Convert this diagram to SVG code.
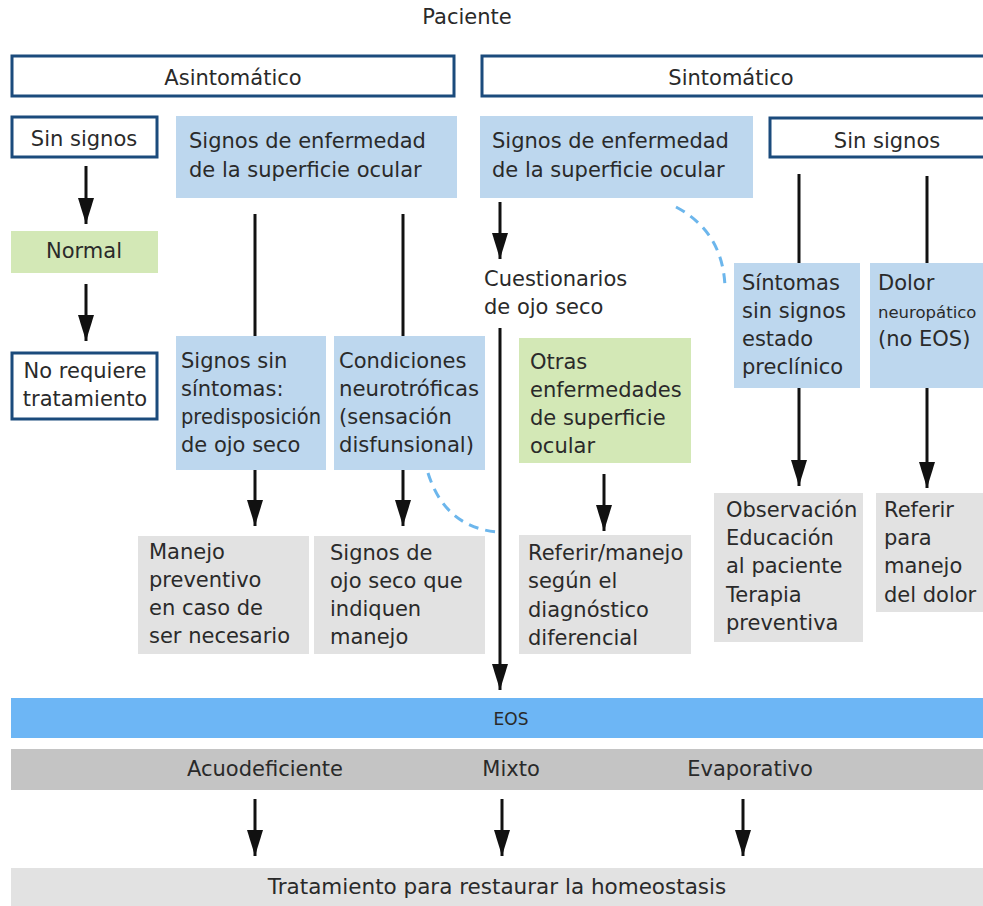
<svg xmlns="http://www.w3.org/2000/svg" width="983" height="906" viewBox="0 0 983 906">
<style>
text{font-family:"DejaVu Sans","Liberation Sans",sans-serif;font-size:21px;fill:#2a2a2a}
.c{text-anchor:middle}
.out{fill:#fff;stroke:#1b4b7c;stroke-width:3}
.blue{fill:#bdd7ee}
.green{fill:#d3e8b6}
.gray{fill:#e2e2e2}
.ln{stroke:#111;stroke-width:3;fill:none}
.arr{stroke:#111;stroke-width:3;fill:none;marker-end:url(#ah)}
.dash{stroke:#6cb6ec;stroke-width:3;fill:none;stroke-dasharray:10 7}
</style>
<defs>
<marker id="ah" viewBox="0 0 26 16" refX="26" refY="8" markerWidth="26" markerHeight="16" markerUnits="userSpaceOnUse" orient="auto">
<path d="M0,0 L26,8 L0,16 z" fill="#111"/>
</marker>
</defs>
<rect width="983" height="906" fill="#fff"/>
<text id="paciente" class="c" x="467" y="24">Paciente</text>
<g id="asintomatico"><rect class="out" x="12" y="56" width="442" height="40"/><text class="c" x="233" y="85">Asintomático</text></g>
<g id="sintomatico"><rect class="out" x="482" y="56" width="510" height="40"/><text class="c" x="731" y="85">Sintomático</text></g>
<g id="sin-signos-a"><rect class="out" x="12" y="117" width="145" height="40"/><text class="c" x="84" y="146">Sin signos</text></g>
<g id="signos-a"><rect class="blue" x="176" y="116" width="281" height="82"/><text x="189" y="148">Signos de enfermedad</text><text x="189" y="177">de la superficie ocular</text></g>
<g id="signos-s"><rect class="blue" x="480" y="116" width="273" height="82"/><text x="492" y="148">Signos de enfermedad</text><text x="492" y="177">de la superficie ocular</text></g>
<g id="sin-signos-s"><rect class="out" x="770" y="118" width="220" height="39"/><text class="c" x="887" y="148">Sin signos</text></g>
<g id="normal"><rect class="green" x="11" y="231" width="147" height="42"/><text class="c" x="84" y="258">Normal</text></g>
<g id="no-requiere"><rect class="out" x="12" y="353" width="145" height="66"/><text class="c" x="85" y="378">No requiere</text><text class="c" x="85" y="406">tratamiento</text></g>
<g id="signos-sin-sintomas"><rect class="blue" x="176" y="336" width="150" height="134"/><text x="181" y="368">Signos sin</text><text x="181" y="396">síntomas:</text><text x="181" y="424" textLength="140" lengthAdjust="spacingAndGlyphs">predisposición</text><text x="181" y="452">de ojo seco</text></g>
<g id="condiciones"><rect class="blue" x="334" y="336" width="151" height="134"/><text x="339" y="368">Condiciones</text><text x="339" y="396" textLength="140" lengthAdjust="spacingAndGlyphs">neurotróficas</text><text x="339" y="424">(sensación</text><text x="339" y="452" textLength="135" lengthAdjust="spacingAndGlyphs">disfunsional)</text></g>
<g id="manejo-preventivo"><rect class="gray" x="138" y="536" width="171" height="118"/><text x="149" y="559">Manejo</text><text x="149" y="587">preventivo</text><text x="149" y="615">en caso de</text><text x="149" y="643">ser necesario</text></g>
<g id="signos-ojo-seco"><rect class="gray" x="314" y="536" width="171" height="118"/><text x="330" y="560">Signos de</text><text x="330" y="588">ojo seco que</text><text x="330" y="616">indiquen</text><text x="330" y="644">manejo</text></g>
<g id="cuestionarios"><text x="484" y="286">Cuestionarios</text><text x="484" y="314">de ojo seco</text></g>
<g id="otras"><rect class="green" x="519" y="338" width="172" height="125"/><text x="530" y="369">Otras</text><text x="530" y="397">enfermedades</text><text x="530" y="425">de superficie</text><text x="530" y="453">ocular</text></g>
<g id="referir-manejo"><rect class="gray" x="519" y="535" width="172" height="119"/><text x="528" y="560">Referir/manejo</text><text x="528" y="588">según el</text><text x="528" y="617">diagnóstico</text><text x="528" y="645">diferencial</text></g>
<g id="sintomas-sin-signos"><rect class="blue" x="734" y="263" width="126" height="125"/><text x="742" y="290">Síntomas</text><text x="742" y="318">sin signos</text><text x="742" y="346">estado</text><text x="742" y="374">preclínico</text></g>
<g id="dolor"><rect class="blue" x="870" y="263" width="120" height="125"/><text x="878" y="290">Dolor</text><text x="878" y="318" style="font-size:16.5px">neuropático</text><text x="878" y="346">(no EOS)</text></g>
<g id="observacion"><rect class="gray" x="714" y="493" width="149" height="149"/><text x="726" y="517">Observación</text><text x="726" y="545">Educación</text><text x="726" y="573">al paciente</text><text x="726" y="602">Terapia</text><text x="726" y="630">preventiva</text></g>
<g id="referir-dolor"><rect class="gray" x="876" y="493" width="114" height="119"/><text x="884" y="517">Referir</text><text x="884" y="545">para</text><text x="884" y="573">manejo</text><text x="884" y="602">del dolor</text></g>
<g id="eos"><rect fill="#6db6f5" x="11" y="698" width="980" height="40"/><text class="c" x="511" y="725" style="font-size:17px">EOS</text></g>
<g id="tipos"><rect fill="#c4c4c4" x="11" y="749" width="980" height="41"/><text class="c" x="265" y="776">Acuodeficiente</text><text class="c" x="511" y="776">Mixto</text><text class="c" x="750" y="776">Evaporativo</text></g>
<g id="tratamiento"><rect fill="#e2e2e2" x="11" y="868" width="980" height="40"/><text class="c" x="497" y="894" style="font-size:21.5px">Tratamiento para restaurar la homeostasis</text></g>
<g id="connectors">
<line class="arr" x1="86" y1="166" x2="86" y2="224"/>
<line class="arr" x1="86" y1="284" x2="86" y2="341"/>
<line class="ln" x1="255" y1="214" x2="255" y2="336"/>
<line class="ln" x1="403" y1="214" x2="403" y2="336"/>
<line class="arr" x1="255" y1="470" x2="255" y2="526"/>
<line class="arr" x1="403" y1="470" x2="403" y2="526"/>
<line class="arr" x1="500" y1="202" x2="500" y2="259"/>
<line class="arr" x1="500" y1="328" x2="500" y2="690"/>
<line class="arr" x1="604" y1="474" x2="604" y2="531"/>
<line class="ln" x1="799" y1="174" x2="799" y2="263"/>
<line class="ln" x1="927" y1="176" x2="927" y2="263"/>
<line class="arr" x1="799" y1="388" x2="799" y2="486"/>
<line class="arr" x1="927" y1="388" x2="927" y2="488"/>
<line class="arr" x1="255" y1="799" x2="255" y2="856"/>
<line class="arr" x1="502" y1="799" x2="502" y2="856"/>
<line class="arr" x1="743" y1="799" x2="743" y2="856"/>
<path class="dash" d="M428,473 Q445,527 497,532"/>
<path class="dash" d="M676,207 Q723,232 725,287"/>
</g>
</svg>
